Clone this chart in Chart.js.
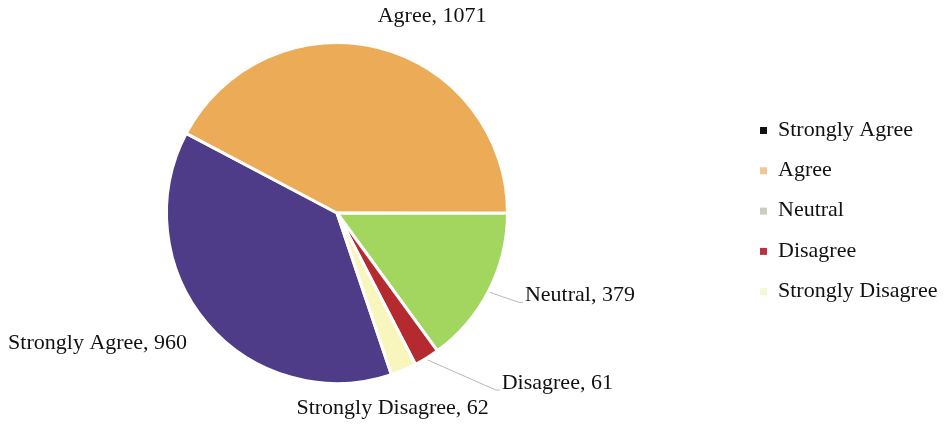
<!DOCTYPE html>
<html lang="en">
<head>
    <meta charset="UTF-8">
    <title>Survey Responses</title>
    <style>
        body {
            margin: 0;
            padding: 0;
            background: #ffffff;
            overflow: hidden;
        }
        .wrap {
            width: 944px;
            height: 424px;
            position: relative;
        }
    </style>
</head>
<body>
    <div class="wrap">
        <canvas id="pieChart" width="944" height="424"></canvas>
    </div>

    <script src="https://cdn.jsdelivr.net/npm/chart.js"></script>
    <script>
        // Data
        const categories = ['Strongly Agree', 'Agree', 'Neutral', 'Disagree', 'Strongly Disagree'];
        const counts = [960, 1071, 379, 61, 62];
        const sliceColors = ['#4e3c88', '#ecab57', '#a2d65e', '#b42a2f', '#f8f5bd'];
        // the legend swatches in the original do not match the slices
        const legendColors = ['#111111', '#efc59c', '#c9cdc2', '#b83444', '#f3f7d2'];

        // label placement relative to the outer midpoint of each slice
        const labelOffsets = [[-20, 20], [54, -31], [36, 5], [75, 25], [-11, 38]];
        const labelAlign = ['right', 'center', 'left', 'left', 'center'];
        const hasLeader = [false, false, true, true, false];

        const fontFamily = '"Liberation Serif", "Times New Roman", serif';

        const sliceLabels = {
            id: 'sliceLabels',
            afterDatasetsDraw(chart) {
                const c = chart.ctx;
                const arcs = chart.getDatasetMeta(0).data;
                c.save();
                c.font = '22px ' + fontFamily;
                c.textBaseline = 'middle';
                arcs.forEach((arc, i) => {
                    const mid = (arc.startAngle + arc.endAngle) / 2;
                    const px = arc.x + Math.cos(mid) * arc.outerRadius;
                    const py = arc.y + Math.sin(mid) * arc.outerRadius;
                    const tx = px + labelOffsets[i][0];
                    const ty = py + labelOffsets[i][1];
                    if (hasLeader[i]) {
                        c.strokeStyle = '#b8b8b8';
                        c.lineWidth = 1;
                        c.beginPath();
                        c.moveTo(px + 1, py + 2);
                        c.lineTo(tx - 6, ty + 7);
                        c.lineTo(tx - 2, ty + 7);
                        c.stroke();
                    }
                    c.fillStyle = '#111111';
                    c.textAlign = labelAlign[i];
                    c.fillText(categories[i] + ', ' + counts[i], tx, ty);
                });
                c.restore();
            }
        };

        const sideLegend = {
            id: 'sideLegend',
            afterDraw(chart) {
                const c = chart.ctx;
                c.save();
                c.font = '22px ' + fontFamily;
                c.textBaseline = 'middle';
                c.textAlign = 'left';
                categories.forEach((name, i) => {
                    const y = 130 + i * 40.3;
                    c.fillStyle = legendColors[i];
                    c.fillRect(760, y - 3, 7, 7);
                    c.fillStyle = '#111111';
                    c.fillText(name, 778, y);
                });
                c.restore();
            }
        };

        const ctx = document.getElementById('pieChart').getContext('2d');
        new Chart(ctx, {
            type: 'pie',
            data: {
                labels: categories,
                datasets: [{
                    data: counts,
                    backgroundColor: sliceColors,
                    borderColor: '#ffffff',
                    borderWidth: 3
                }]
            },
            options: {
                responsive: false,
                animation: false,
                rotation: 161.4,
                layout: {
                    padding: { top: 41, bottom: 39, left: 165, right: 435 }
                },
                plugins: {
                    legend: { display: false },
                    tooltip: { enabled: false }
                }
            },
            plugins: [sliceLabels, sideLegend]
        });
    </script>
</body>
</html>
